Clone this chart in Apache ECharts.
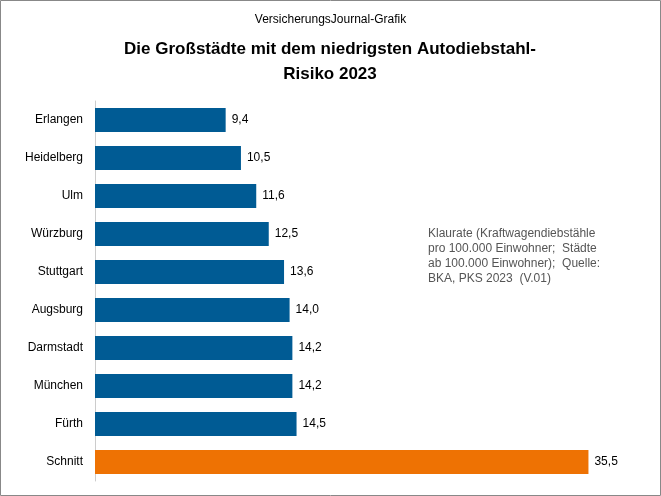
<!DOCTYPE html>
<html><head><meta charset="utf-8">
<script src="https://cdn.jsdelivr.net/npm/echarts@6/dist/echarts.min.js"></script>
<style>html,body{margin:0;padding:0;background:#fff}#c{width:661px;height:496px}</style>
</head><body><div id="c"></div>
<script>
var cities = ['Erlangen', 'Heidelberg', 'Ulm', 'Würzburg', 'Stuttgart', 'Augsburg', 'Darmstadt', 'München', 'Fürth', 'Schnitt'];
var values = [9.4, 10.5, 11.6, 12.5, 13.6, 14.0, 14.2, 14.2, 14.5, 35.5];

var chart = echarts.init(document.getElementById('c'));
chart.setOption({
  animation: false,
  title: [
    { text: 'VersicherungsJournal-Grafik', left: 'center', top: 9,
      textStyle: { fontFamily: 'Arial, Liberation Sans', fontSize: 12, fontWeight: 'normal', color: '#000' } }
  ],
  graphic: [
    { type: 'rect', shape: { x: 0.5, y: 0.5, width: 660, height: 495 }, style: { fill: 'none', stroke: '#888', lineWidth: 1 } },
    { type: 'text', x: 330, y: 37,
      style: { text: 'Die Großstädte mit dem niedrigsten Autodiebstahl-\nRisiko 2023', align: 'center',
        font: 'bold 17px Arial, Liberation Sans', fill: '#000', lineHeight: 25 } },
    { type: 'text', left: 428, top: 226,
      style: { text: 'Klaurate (Kraftwagendiebstähle\npro 100.000 Einwohner;  Städte\nab 100.000 Einwohner);  Quelle:\nBKA, PKS 2023  (V.01)',
        font: '12px Arial, Liberation Sans', fill: '#555', lineHeight: 15 } }
  ],
  grid: { left: 95, top: 101, width: 556, bottom: 15 },
  xAxis: { type: 'value', min: 0, max: 40, show: false },
  yAxis: {
    type: 'category', data: cities, inverse: true,
    axisTick: { show: false },
    axisLine: { lineStyle: { color: '#ccc' } },
    axisLabel: { color: '#000', fontSize: 12, fontFamily: 'Arial, Liberation Sans', margin: 12 }
  },
  series: [{
    type: 'bar', barWidth: 24,
    data: values.map(function (v, i) {
      return { value: v, itemStyle: { color: i === values.length - 1 ? '#ee7203' : '#005b94' } };
    }),
    label: { show: true, position: 'right', distance: 6, color: '#000', fontSize: 12, fontFamily: 'Arial, Liberation Sans',
      formatter: function (p) { return p.value.toFixed(1).replace('.', ','); } }
  }]
});
</script></body></html>
